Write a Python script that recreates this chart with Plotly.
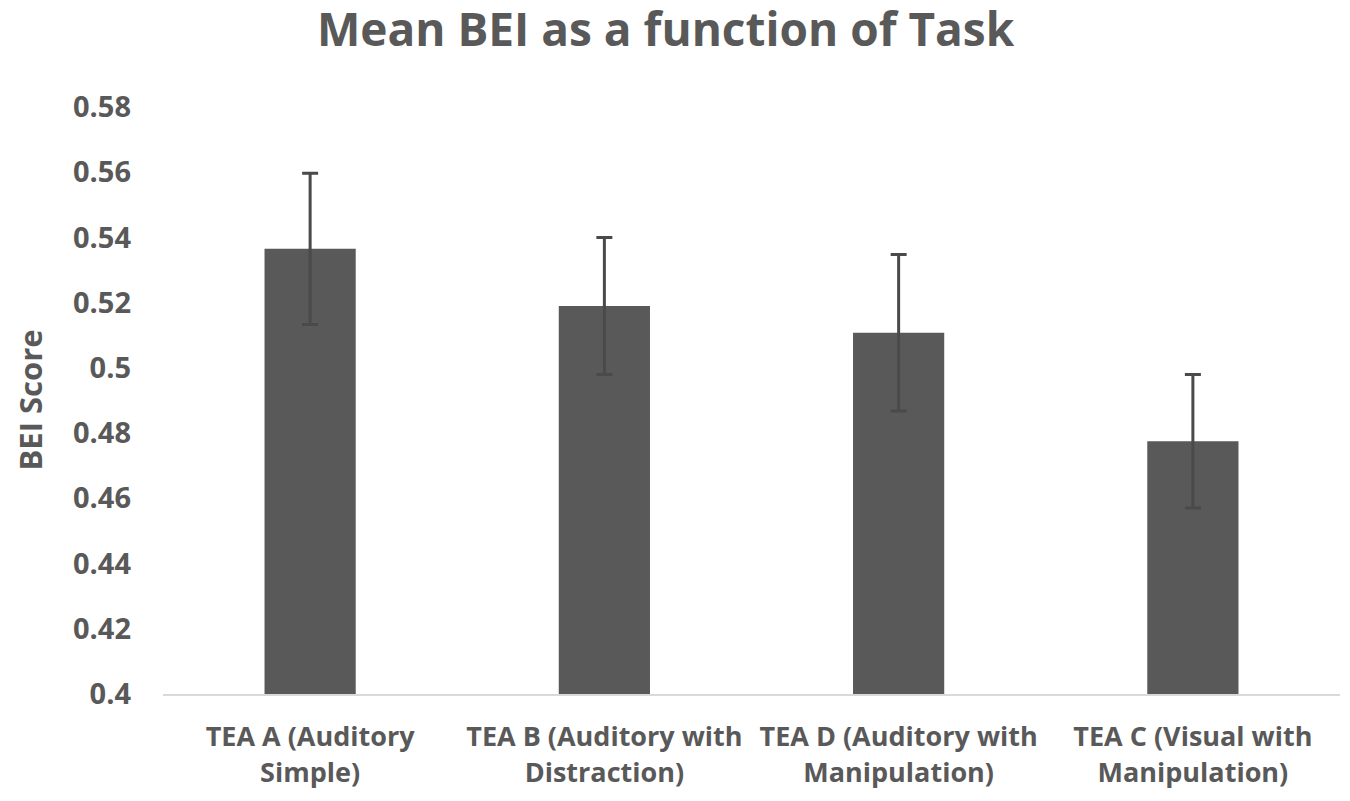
import plotly.graph_objects as go

categories = ["TEA A (Auditory<br>Simple)", "TEA B (Auditory with<br>Distraction)",
              "TEA D (Auditory with<br>Manipulation)", "TEA C (Visual with<br>Manipulation)"]
means = [0.5365, 0.519, 0.5108, 0.4775]
errors = [0.0232, 0.021, 0.024, 0.0205]
y_ticks = [0.4, 0.42, 0.44, 0.46, 0.48, 0.5, 0.52, 0.54, 0.56, 0.58]
y_tick_labels = ["0.4", "0.42", "0.44", "0.46", "0.48", "0.5", "0.52", "0.54", "0.56", "0.58"]
y_title = "BEI Score"
chart_title = "Mean BEI as a function of Task"

grey = "#595959"
fnt = "Open Sans"

fig = go.Figure(go.Bar(
    x=categories, y=[m - 0.4 for m in means], base=0.4,
    marker=dict(color="#595959", line=dict(width=0)),
    error_y=dict(type="data", array=errors, visible=True, color="#4a4a4a", thickness=3, width=8),
))

# page body has an 8px margin, so the figure is made 8px smaller and margins compensated
W, H = 1342, 793
L, R = 155, 10
fig.update_layout(
    width=W, height=H,
    paper_bgcolor="white", plot_bgcolor="white",
    margin=dict(l=L, r=R, t=99, b=107),
    bargap=0.69,
    showlegend=False,
    title=dict(text="<b>%s</b>" % chart_title, x=0.49, xanchor="center",
               y=0.972, yanchor="middle", font=dict(family=fnt, size=46, color=grey)),
    xaxis=dict(showline=True, linecolor="#d9d9d9", linewidth=2, ticks="", showgrid=False,
               tickfont=dict(family=fnt, size=27, color=grey), ticklabelstandoff=18,
               tickprefix="<b>", ticksuffix="</b>"),
    yaxis=dict(range=[0.4, 0.58], tickvals=y_ticks, ticktext=["<b>%s</b>" % t for t in y_tick_labels],
               showgrid=False, zeroline=False, showline=False, ticks="",
               tickfont=dict(family=fnt, size=29, color=grey), ticklabelstandoff=31),
)
fig.add_annotation(text="<b>%s</b>" % y_title, textangle=-90, xref="paper", yref="paper",
                   x=(21 - L) / (W - L - R), y=0.5, xanchor="center", yanchor="middle",
                   showarrow=False, font=dict(family=fnt, size=31, color=grey))

fig.write_html("out.html")
